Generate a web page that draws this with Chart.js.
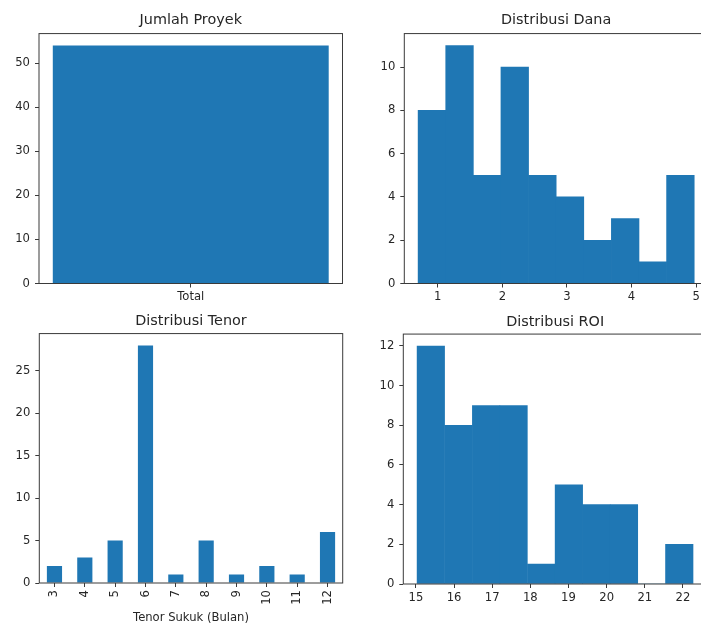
<!DOCTYPE html>
<html>
<head>
<meta charset="utf-8">
<script src="https://cdn.jsdelivr.net/npm/chart.js@4/dist/chart.umd.min.js"></script>
<style>
  html, body { margin: 0; padding: 0; background: #fff; }
  #page { position: relative; width: 701px; height: 623px; overflow: hidden; background: #fff; }
  #page canvas { position: absolute; }
</style>
</head>
<body>
<div id="page">
  <canvas id="proyek" width="350" height="310" style="left:0px;top:0px"></canvas>
  <canvas id="dana" width="370" height="310" style="left:350px;top:0px"></canvas>
  <canvas id="tenor" width="350" height="330" style="left:0px;top:310px"></canvas>
  <canvas id="roi" width="370" height="330" style="left:350px;top:310px"></canvas>
</div>
<script>
// ---- data ----
const proyekLabels = ['Total'];
const proyekCounts = [54];
const proyekTicks = [0, 10, 20, 30, 40, 50];

// histogram of funding amounts: bin edges and counts
const danaEdges = [0.695, 1.123, 1.550, 1.978, 2.405, 2.833, 3.260, 3.688, 4.115, 4.543, 4.970];
const danaCounts = [8, 11, 5, 10, 5, 4, 2, 3, 1, 5];
const danaXTicks = [1, 2, 3, 4, 5];
const danaYTicks = [0, 2, 4, 6, 8, 10];

// projects per tenor (months)
const tenorMonths = ['3', '4', '5', '6', '7', '8', '9', '10', '11', '12'];
const tenorCounts = [2, 3, 5, 28, 1, 5, 1, 2, 1, 6];
const tenorYTicks = [0, 5, 10, 15, 20, 25];

// histogram of ROI (%): bin edges and counts
const roiEdges = [15.03, 15.75, 16.48, 17.20, 17.92, 18.65, 19.37, 20.09, 20.82, 21.54, 22.27];
const roiCounts = [12, 8, 9, 9, 1, 5, 4, 4, 0, 2];
const roiXTicks = [15, 16, 17, 18, 19, 20, 21, 22];
const roiYTicks = [0, 2, 4, 6, 8, 10, 12];

// ---- style ----
const BAR = '#1f77b4';
const SPINE = '#3a3a3a';
const TEXT = '#262626';
const TICK_FONT = { family: 'DejaVu Sans', size: 11.6 };
const TITLE_FONT = { family: 'DejaVu Sans', size: 14.4, weight: 'normal', lineHeight: 1.2 };

Chart.defaults.font.family = 'DejaVu Sans';
Chart.defaults.color = TEXT;

// axes box drawn on all four sides
const framePlugin = {
  id: 'frame',
  afterDatasetsDraw(chart) {
    const { ctx, chartArea: a } = chart;
    ctx.save();
    ctx.strokeStyle = SPINE;
    ctx.lineWidth = 1;
    ctx.strokeRect(a.left, a.top, a.right - a.left, a.bottom - a.top);
    ctx.restore();
  }
};

function histPoints(edges, counts) {
  return counts.map((c, i) => ({ x: (edges[i] + edges[i + 1]) / 2, y: c }));
}

function fixedTicks(values) {
  return function (scale) { scale.ticks = values.map(v => ({ value: v })); };
}

function tickGrid() {
  return { display: true, drawOnChartArea: false, drawTicks: true, tickLength: 4, color: SPINE, lineWidth: 1, offset: false };
}

function yAxis(max, ticks, width) {
  return {
    type: 'linear', min: 0, max: max,
    afterBuildTicks: fixedTicks(ticks),
    afterFit(s) { s.width = width; },
    grid: tickGrid(),
    border: { display: false },
    ticks: { font: TICK_FONT, color: TEXT, padding: 5 }
  };
}

function baseOptions(title, titlePad, layoutPad, scales) {
  return {
    responsive: false,
    animation: false,
    devicePixelRatio: 1,
    layout: { padding: layoutPad },
    plugins: {
      legend: { display: false },
      tooltip: { enabled: false },
      title: { display: true, text: title, font: TITLE_FONT, color: TEXT, padding: titlePad, fullSize: false }
    },
    scales: scales
  };
}

// Jumlah Proyek
new Chart(document.getElementById('proyek'), {
  type: 'bar',
  data: { labels: proyekLabels, datasets: [{ data: proyekCounts, backgroundColor: BAR, borderWidth: 0, categoryPercentage: 1, barPercentage: 0.8 / 0.88 }] },
  options: baseOptions('Jumlah Proyek', { top: 11.9, bottom: 4.4 }, { left: 0, top: 0, right: 7.5, bottom: 0 }, {
    x: {
      type: 'category', offset: true,
      afterFit(s) { s.height = 26.5; },
      grid: tickGrid(), border: { display: false },
      ticks: { font: TICK_FONT, color: TEXT, padding: 2.5, maxRotation: 0 }
    },
    y: yAxis(54 * 1.05, proyekTicks, 39)
  }),
  plugins: [framePlugin]
});

// Distribusi Dana
const danaSpan = danaEdges[danaEdges.length - 1] - danaEdges[0];
new Chart(document.getElementById('dana'), {
  type: 'bar',
  data: { datasets: [{ data: histPoints(danaEdges, danaCounts), backgroundColor: BAR, borderWidth: 0, categoryPercentage: 1, barPercentage: 1 }] },
  options: baseOptions('Distribusi Dana', { top: 11.9, bottom: 4.4 }, { left: 0, top: 0, right: 12, bottom: 0 }, {
    x: {
      type: 'linear', offset: false,
      min: danaEdges[0] - 0.05 * danaSpan, max: danaEdges[danaEdges.length - 1] + 0.05 * danaSpan,
      afterBuildTicks: fixedTicks(danaXTicks),
      afterFit(s) { s.height = 26.5; },
      grid: tickGrid(), border: { display: false },
      ticks: { font: TICK_FONT, color: TEXT, padding: 2.5, maxRotation: 0 }
    },
    y: yAxis(11 * 1.05, danaYTicks, 54.3)
  }),
  plugins: [framePlugin]
});

// Distribusi Tenor
new Chart(document.getElementById('tenor'), {
  type: 'bar',
  data: { labels: tenorMonths, datasets: [{ data: tenorCounts, backgroundColor: BAR, borderWidth: 0, categoryPercentage: 1, barPercentage: 0.5 }] },
  options: baseOptions('Distribusi Tenor', { top: 2.2, bottom: 4.1 }, { left: 0, top: 0, right: 7.3, bottom: 15 }, {
    x: {
      type: 'category', offset: true,
      afterFit(s) { s.height = 42; },
      grid: tickGrid(), border: { display: false },
      ticks: { font: TICK_FONT, color: TEXT, padding: 3, minRotation: 90, maxRotation: 90, autoSkip: false },
      title: { display: true, text: 'Tenor Sukuk (Bulan)', font: TICK_FONT, color: TEXT, padding: { top: 0, bottom: 0 } }
    },
    y: yAxis(28 * 1.05, tenorYTicks, 39.3)
  }),
  plugins: [framePlugin]
});

// Distribusi ROI
const roiSpan = roiEdges[roiEdges.length - 1] - roiEdges[0];
new Chart(document.getElementById('roi'), {
  type: 'bar',
  data: { datasets: [{ data: histPoints(roiEdges, roiCounts), backgroundColor: BAR, borderWidth: 0, categoryPercentage: 1, barPercentage: 1 }] },
  options: baseOptions('Distribusi ROI', { top: 3.9, bottom: 2.9 }, { left: 0, top: 0, right: 13, bottom: 0 }, {
    x: {
      type: 'linear', offset: false,
      min: roiEdges[0] - 0.05 * roiSpan, max: roiEdges[roiEdges.length - 1] + 0.05 * roiSpan,
      afterBuildTicks: fixedTicks(roiXTicks),
      afterFit(s) { s.height = 56; },
      grid: tickGrid(), border: { display: false },
      ticks: { font: TICK_FONT, color: TEXT, padding: 3, maxRotation: 0 }
    },
    y: yAxis(12 * 1.05, roiYTicks, 53.3)
  }),
  plugins: [framePlugin]
});
</script>
</body>
</html>
